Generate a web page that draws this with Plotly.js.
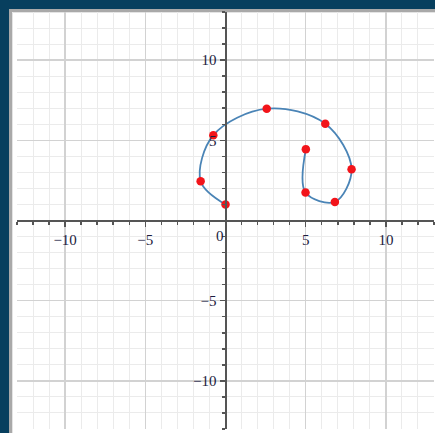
<!DOCTYPE html>
<html>
<head>
<meta charset="utf-8">
<script src="https://cdn.plot.ly/plotly-3.0.1.min.js"></script>
<style>html,body{margin:0;padding:0;background:#073f5e;}#chart{width:435px;height:433px;}</style>
</head>
<body>
<div id="chart"></div>
<script>
// Data points
const xPts = [0, -1.55, -0.76, 2.57, 6.22, 7.86, 6.82, 4.99, 5.01];
const yPts = [1.0, 2.45, 5.32, 6.97, 6.03, 3.2, 1.16, 1.74, 4.45];
const xTickVals = [-10, -5, 5, 10];
const yTickVals = [-10, -5, 5, 10];
const originLabel = '0';

const W = 435, H = 433;
const mL = 17, mR = 1, mT = 12, mB = 4;
const pw = W - mL - mR, ph = H - mT - mB;
// helpers converting pixel positions to paper fractions (frame decoration only)
const px = p => (p - mL) / pw;
const py = p => 1 - (p - mT) / ph;

const tickFont = {family: 'Liberation Serif, Times New Roman, serif', size: 15, color: '#1c1c40'};

const traces = [
  {x: xPts, y: yPts, mode: 'lines', line: {shape: 'spline', smoothing: 1, color: '#4a84b6', width: 1.8}, hoverinfo: 'skip'},
  {x: xPts, y: yPts, mode: 'markers', marker: {color: '#f2141a', size: 8.5}}
];

const axisCommon = {
  range: [-13, 13],
  showgrid: true,
  gridcolor: '#d2d2d2',
  gridwidth: 1.5,
  zeroline: false,
  showline: true,
  linecolor: '#555555',
  linewidth: 2,
  ticks: 'outside',
  ticklen: 5,
  tickwidth: 1.5,
  tickcolor: '#555555',
  tickfont: tickFont,
  minor: {dtick: 1, showgrid: true, gridcolor: '#ebebeb', gridwidth: 1, ticks: 'outside', ticklen: 3, tickcolor: '#555555', tickwidth: 1.5},
  anchor: 'free',
  position: 0.5,
  fixedrange: true
};

const layout = {
  width: W, height: H,
  margin: {l: mL, r: mR, t: mT, b: mB, pad: 0},
  paper_bgcolor: '#073f5e',
  plot_bgcolor: 'rgba(0,0,0,0)',
  showlegend: false,
  xaxis: Object.assign({}, axisCommon, {tickmode: 'array', tickvals: xTickVals}),
  yaxis: Object.assign({}, axisCommon, {tickmode: 'array', tickvals: yTickVals}),
  annotations: [
    {x: 0, y: 0, xref: 'x', yref: 'y', text: originLabel, showarrow: false, font: tickFont,
     xanchor: 'center', yanchor: 'middle', xshift: -6, yshift: -15}
  ],
  shapes: [
    {type: 'rect', xref: 'paper', yref: 'paper', x0: px(10.5), x1: px(445), y0: py(445), y1: py(10.5),
     fillcolor: '#ffffff', line: {color: '#a9a9a9', width: 3}, layer: 'below'},
    {type: 'rect', xref: 'paper', yref: 'paper', x0: px(12.5), x1: px(445), y0: py(445), y1: py(12.5),
     fillcolor: 'rgba(0,0,0,0)', line: {color: '#e4e4e4', width: 1}, layer: 'below'}
  ]
};

Plotly.newPlot('chart', traces, layout, {displayModeBar: false, staticPlot: true});
</script>
</body>
</html>
